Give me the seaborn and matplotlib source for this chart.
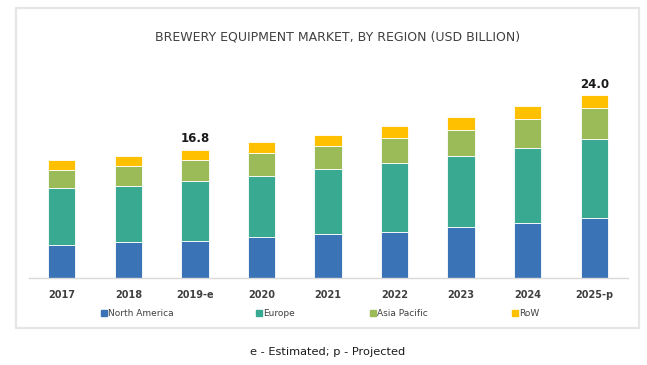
import matplotlib
matplotlib.use("Agg")
import matplotlib.pyplot as plt
import seaborn as sns
import pandas as pd
from matplotlib.patches import Rectangle
from matplotlib.lines import Line2D

# values (USD billion)
years = ["2017", "2018", "2019-e", "2020", "2021", "2022", "2023", "2024", "2025-p"]
north_america = [4.33, 4.64, 4.82, 5.30, 5.69, 6.04, 6.69, 7.18, 7.85]
europe = [7.40, 7.43, 7.91, 8.08, 8.53, 8.97, 9.32, 9.88, 10.40]
asia_pacific = [2.36, 2.62, 2.72, 2.94, 3.10, 3.36, 3.41, 3.77, 4.05]
row = [1.31, 1.31, 1.35, 1.44, 1.36, 1.50, 1.63, 1.67, 1.70]
regions = ["North America", "Europe", "Asia Pacific", "RoW"]
colors = ["#3b74b6", "#3aa991", "#9bbb59", "#ffc000"]
labels = {"2019-e": "16.8", "2025-p": "24.0"}

df = pd.DataFrame({"year": years, "North America": north_america, "Europe": europe,
                   "Asia Pacific": asia_pacific, "RoW": row})

sns.set_style("white")
fig = plt.figure(figsize=(6.47, 3.65), dpi=100)
ax = fig.add_axes([28.5 / 647, 1 - 277.7 / 365, 599 / 647, 207.7 / 365])

# stack segments one on top of the other
bottom = [0.0] * len(years)
for reg, col in zip(regions, colors):
    tmp = df[["year", reg]].copy()
    tmp["bottom"] = bottom
    sns.barplot(data=tmp, x="year", y=reg, bottom=tmp["bottom"], color=col, width=0.41,
                edgecolor="white", linewidth=0.6, ax=ax, saturation=1)
    bottom = [b + v for b, v in zip(bottom, df[reg])]

for i, y in enumerate(years):
    if y in labels:
        ax.text(i, bottom[i] + 0.55, labels[y], ha="center", va="bottom",
                fontsize=8.5, fontweight="bold", color="#1a1a1a")

ax.set_xlim(-0.5, len(years) - 0.5)
ax.set_ylim(0, 27.25)
ax.set_xlabel("")
ax.set_ylabel("")
ax.set_yticks([])
for s in ["top", "right", "left"]:
    ax.spines[s].set_visible(False)
ax.spines["bottom"].set_color("#d9d9d9")
ax.spines["bottom"].set_linewidth(1)
ax.tick_params(axis="x", length=0, pad=9, labelsize=7, labelcolor="#404040")
for t in ax.get_xticklabels():
    t.set_fontweight("bold")

fig.text(338 / 647, 1 - 37 / 365, "BREWERY EQUIPMENT MARKET, BY REGION (USD BILLION)",
         ha="center", va="center", fontsize=9, color="#404040")

# one legend entry per slot, the original spaces them unevenly
leg_x = [100, 255, 369, 511]
for reg, col, lx in zip(regions, colors, leg_x):
    h = Line2D([], [], marker="s", linestyle="", markersize=4, color=col)
    leg = fig.legend([h], [reg], loc="center left", bbox_to_anchor=(lx / 647, 1 - 314 / 365),
                     frameon=False, fontsize=6.5, handletextpad=0.1, handlelength=0.8,
                     borderaxespad=0, borderpad=0)
    leg.get_texts()[0].set_color("#404040")

fig.text(328 / 647, 1 - 352 / 365, "e - Estimated; p - Projected", ha="center", va="center",
         fontsize=8.2, color="#1a1a1a")

# outer light frame
fig.patches.append(Rectangle((16 / 647, 1 - 327.5 / 365), 623 / 647, 319.5 / 365,
                             transform=fig.transFigure, fill=False, edgecolor="#e6e6e6", lw=1.6))

fig.savefig("out.png", dpi=100)
